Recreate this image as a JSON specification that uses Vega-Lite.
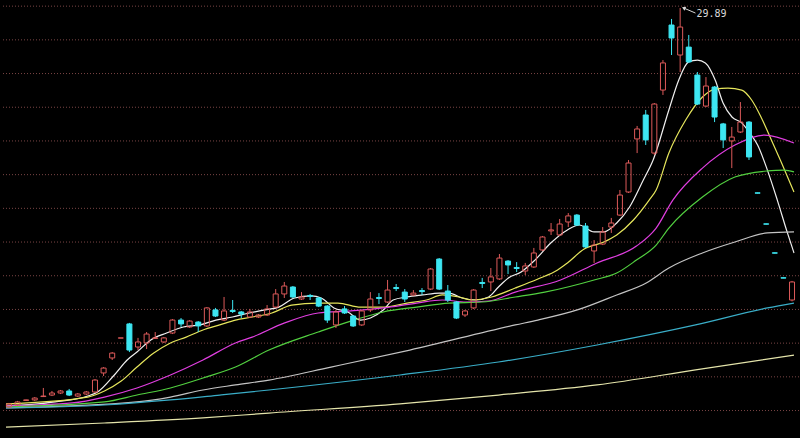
{
  "$schema": "https://vega.github.io/schema/vega-lite/v6.json",
  "width": 800,
  "height": 438,
  "autosize": {"type": "fit", "contains": "padding"},
  "padding": 0,
  "background": "#000000",
  "config": {"view": {"stroke": null}},
  "datasets": {
    "g": [{"p":6},{"p":8},{"p":10},{"p":12},{"p":14},{"p":16},{"p":18},{"p":20},{"p":22},{"p":24},{"p":26},{"p":28},{"p":30}],
    "k": [
      {"i":0,"o":6.21,"c":6.39,"h":6.45,"l":6.15},
      {"i":1,"o":6.33,"c":6.51,"h":6.57,"l":6.27},
      {"i":2,"o":6.60,"c":6.63,"h":6.65,"l":6.57},
      {"i":3,"o":6.63,"c":6.74,"h":6.80,"l":6.57},
      {"i":4,"o":6.83,"c":6.86,"h":7.34,"l":6.80},
      {"i":5,"o":6.92,"c":7.04,"h":7.16,"l":6.86},
      {"i":6,"o":7.04,"c":7.16,"h":7.22,"l":6.98},
      {"i":7,"o":7.16,"c":6.92,"h":7.28,"l":6.86},
      {"i":8,"o":6.86,"c":6.98,"h":7.04,"l":6.80},
      {"i":9,"o":6.98,"c":7.10,"h":7.16,"l":6.92},
      {"i":10,"o":7.10,"c":7.81,"h":7.87,"l":7.04},
      {"i":11,"o":8.23,"c":8.52,"h":8.58,"l":8.05},
      {"i":12,"o":9.12,"c":9.41,"h":9.47,"l":9.00},
      {"i":13,"o":10.30,"c":10.31,"h":10.31,"l":10.30},
      {"i":14,"o":11.14,"c":9.59,"h":11.20,"l":9.47},
      {"i":15,"o":9.77,"c":10.07,"h":10.31,"l":9.59},
      {"i":16,"o":10.01,"c":10.54,"h":10.66,"l":9.65},
      {"i":17,"o":10.28,"c":10.31,"h":10.66,"l":10.25},
      {"i":18,"o":10.07,"c":10.31,"h":10.36,"l":10.01},
      {"i":19,"o":10.60,"c":11.37,"h":11.43,"l":10.54},
      {"i":20,"o":11.37,"c":11.14,"h":11.49,"l":10.96},
      {"i":21,"o":10.96,"c":11.31,"h":11.37,"l":10.90},
      {"i":22,"o":11.25,"c":11.02,"h":11.31,"l":10.66},
      {"i":23,"o":11.02,"c":12.09,"h":12.14,"l":10.96},
      {"i":24,"o":11.97,"c":11.61,"h":12.09,"l":11.55},
      {"i":25,"o":11.37,"c":11.91,"h":12.74,"l":11.31},
      {"i":26,"o":11.94,"c":11.88,"h":12.56,"l":11.79},
      {"i":27,"o":11.85,"c":11.73,"h":11.91,"l":11.49},
      {"i":28,"o":11.55,"c":11.85,"h":12.03,"l":11.49},
      {"i":29,"o":11.55,"c":11.67,"h":11.73,"l":11.49},
      {"i":30,"o":11.67,"c":12.03,"h":12.26,"l":11.61},
      {"i":31,"o":12.14,"c":12.92,"h":13.21,"l":12.09},
      {"i":32,"o":12.92,"c":13.39,"h":13.63,"l":12.68},
      {"i":33,"o":13.33,"c":12.74,"h":13.39,"l":12.68},
      {"i":34,"o":12.62,"c":12.74,"h":13.03,"l":12.56},
      {"i":35,"o":12.83,"c":12.77,"h":12.92,"l":12.56},
      {"i":36,"o":12.68,"c":12.20,"h":12.74,"l":12.14},
      {"i":37,"o":12.20,"c":11.37,"h":12.26,"l":11.20},
      {"i":38,"o":11.08,"c":11.85,"h":11.97,"l":10.90},
      {"i":39,"o":12.03,"c":11.79,"h":12.20,"l":11.73},
      {"i":40,"o":11.61,"c":11.02,"h":11.67,"l":10.96},
      {"i":41,"o":11.08,"c":11.91,"h":11.97,"l":11.02},
      {"i":42,"o":11.97,"c":12.62,"h":13.03,"l":11.85},
      {"i":43,"o":12.71,"c":12.65,"h":12.97,"l":12.32},
      {"i":44,"o":12.44,"c":13.15,"h":13.75,"l":12.38},
      {"i":45,"o":13.30,"c":13.24,"h":13.51,"l":13.09},
      {"i":46,"o":13.03,"c":12.62,"h":13.21,"l":12.44},
      {"i":47,"o":12.86,"c":12.97,"h":13.15,"l":12.80},
      {"i":48,"o":13.12,"c":13.06,"h":13.27,"l":12.86},
      {"i":49,"o":13.21,"c":14.40,"h":14.46,"l":13.15},
      {"i":50,"o":14.99,"c":13.21,"h":15.05,"l":13.15},
      {"i":51,"o":13.09,"c":12.56,"h":13.45,"l":12.44},
      {"i":52,"o":12.44,"c":11.49,"h":12.50,"l":11.43},
      {"i":53,"o":11.67,"c":11.91,"h":11.97,"l":11.55},
      {"i":54,"o":12.09,"c":13.15,"h":13.21,"l":12.03},
      {"i":55,"o":13.60,"c":13.54,"h":13.87,"l":13.27},
      {"i":56,"o":13.63,"c":13.93,"h":14.46,"l":13.09},
      {"i":57,"o":13.81,"c":15.05,"h":15.29,"l":13.75},
      {"i":58,"o":14.87,"c":14.64,"h":14.93,"l":14.10},
      {"i":59,"o":14.49,"c":14.43,"h":14.81,"l":14.22},
      {"i":60,"o":14.28,"c":14.58,"h":14.76,"l":14.04},
      {"i":61,"o":14.52,"c":15.35,"h":15.65,"l":14.46},
      {"i":62,"o":15.53,"c":16.30,"h":16.36,"l":15.47},
      {"i":63,"o":16.66,"c":16.72,"h":17.13,"l":16.42},
      {"i":64,"o":16.42,"c":17.07,"h":17.37,"l":16.36},
      {"i":65,"o":17.19,"c":17.55,"h":17.72,"l":16.89},
      {"i":66,"o":17.60,"c":17.01,"h":17.66,"l":16.95},
      {"i":67,"o":16.95,"c":15.71,"h":17.13,"l":15.65},
      {"i":68,"o":15.47,"c":15.82,"h":16.12,"l":14.76},
      {"i":69,"o":15.88,"c":16.60,"h":16.89,"l":15.82},
      {"i":70,"o":16.89,"c":17.13,"h":17.43,"l":16.54},
      {"i":71,"o":17.60,"c":18.79,"h":19.09,"l":17.55},
      {"i":72,"o":18.97,"c":20.69,"h":20.87,"l":18.91},
      {"i":73,"o":22.12,"c":22.71,"h":22.89,"l":21.28},
      {"i":74,"o":23.54,"c":22.06,"h":23.84,"l":21.76},
      {"i":75,"o":21.28,"c":24.19,"h":24.25,"l":21.17},
      {"i":76,"o":25.02,"c":26.63,"h":26.80,"l":24.73},
      {"i":77,"o":28.88,"c":28.11,"h":29.24,"l":27.10},
      {"i":78,"o":27.10,"c":28.76,"h":29.89,"l":26.09},
      {"i":79,"o":27.57,"c":26.69,"h":28.29,"l":26.63},
      {"i":80,"o":25.91,"c":24.19,"h":26.09,"l":24.13},
      {"i":81,"o":24.07,"c":25.26,"h":25.79,"l":24.01},
      {"i":82,"o":25.20,"c":23.42,"h":25.26,"l":23.12},
      {"i":83,"o":23.01,"c":22.06,"h":23.07,"l":21.58},
      {"i":84,"o":22.00,"c":22.23,"h":22.83,"l":20.39},
      {"i":85,"o":22.53,"c":23.12,"h":24.31,"l":22.47},
      {"i":86,"o":23.12,"c":21.05,"h":23.18,"l":20.87},
      {"i":87,"o":18.92,"c":18.90,"h":18.92,"l":18.90},
      {"i":88,"o":17.08,"c":17.06,"h":17.08,"l":17.06},
      {"i":89,"o":15.36,"c":15.34,"h":15.36,"l":15.34},
      {"i":90,"o":13.88,"c":13.86,"h":13.88,"l":13.86},
      {"i":91,"o":12.56,"c":13.63,"h":13.69,"l":12.48}
    ],
    "ma": [
      {"s":"MA5","i":-0.34,"p":6.27},{"s":"MA5","i":5.38,"p":6.51},{"s":"MA5","i":9.16,"p":6.86},{"s":"MA5","i":10.30,"p":7.10},
      {"s":"MA5","i":12.25,"p":8.11},{"s":"MA5","i":13.74,"p":9.00},{"s":"MA5","i":14.88,"p":9.47},{"s":"MA5","i":16.48,"p":10.19},
      {"s":"MA5","i":18.32,"p":10.60},{"s":"MA5","i":20.26,"p":10.96},{"s":"MA5","i":22.21,"p":11.08},{"s":"MA5","i":24.04,"p":11.37},
      {"s":"MA5","i":25.98,"p":11.55},{"s":"MA5","i":27.93,"p":11.79},{"s":"MA5","i":29.76,"p":11.97},{"s":"MA5","i":31.36,"p":12.14},
      {"s":"MA5","i":33.20,"p":12.68},{"s":"MA5","i":35.14,"p":12.80},{"s":"MA5","i":36.29,"p":12.68},{"s":"MA5","i":37.77,"p":12.09},
      {"s":"MA5","i":39.38,"p":11.85},{"s":"MA5","i":40.87,"p":11.37},{"s":"MA5","i":42.01,"p":11.49},{"s":"MA5","i":43.50,"p":11.97},
      {"s":"MA5","i":44.64,"p":12.56},{"s":"MA5","i":46.25,"p":12.74},{"s":"MA5","i":48.08,"p":12.86},{"s":"MA5","i":50.02,"p":12.97},
      {"s":"MA5","i":51.17,"p":12.97},{"s":"MA5","i":52.66,"p":12.68},{"s":"MA5","i":54.26,"p":12.56},{"s":"MA5","i":55.75,"p":12.74},
      {"s":"MA5","i":56.89,"p":13.33},{"s":"MA5","i":58.04,"p":13.87},{"s":"MA5","i":59.52,"p":14.22},{"s":"MA5","i":61.13,"p":14.93},
      {"s":"MA5","i":62.96,"p":15.94},{"s":"MA5","i":64.90,"p":16.72},{"s":"MA5","i":66.28,"p":17.01},{"s":"MA5","i":68.00,"p":16.60},
      {"s":"MA5","i":69.14,"p":16.60},{"s":"MA5","i":70.63,"p":17.13},{"s":"MA5","i":72.12,"p":18.08},{"s":"MA5","i":73.72,"p":19.68},
      {"s":"MA5","i":74.86,"p":20.87},{"s":"MA5","i":76.69,"p":23.84},{"s":"MA5","i":77.84,"p":25.62},{"s":"MA5","i":78.98,"p":26.69},
      {"s":"MA5","i":80.01,"p":26.80},{"s":"MA5","i":80.93,"p":26.63},{"s":"MA5","i":82.07,"p":25.62},{"s":"MA5","i":82.99,"p":24.25},
      {"s":"MA5","i":84.02,"p":23.42},{"s":"MA5","i":85.16,"p":23.07},{"s":"MA5","i":86.08,"p":22.47},{"s":"MA5","i":87.00,"p":21.76},
      {"s":"MA5","i":88.14,"p":20.27},{"s":"MA5","i":89.29,"p":18.49},{"s":"MA5","i":90.43,"p":16.60},{"s":"MA5","i":91.23,"p":15.35},

      {"s":"MA10","i":-0.34,"p":6.39},{"s":"MA10","i":9.16,"p":6.80},{"s":"MA10","i":11.10,"p":7.16},{"s":"MA10","i":13.05,"p":7.75},
      {"s":"MA10","i":14.88,"p":8.58},{"s":"MA10","i":16.83,"p":9.41},{"s":"MA10","i":18.77,"p":10.01},{"s":"MA10","i":20.60,"p":10.36},
      {"s":"MA10","i":22.55,"p":10.78},{"s":"MA10","i":24.50,"p":11.08},{"s":"MA10","i":26.33,"p":11.37},{"s":"MA10","i":28.27,"p":11.55},
      {"s":"MA10","i":30.56,"p":11.79},{"s":"MA10","i":32.85,"p":12.26},{"s":"MA10","i":35.94,"p":12.38},{"s":"MA10","i":38.23,"p":12.38},
      {"s":"MA10","i":40.87,"p":12.14},{"s":"MA10","i":43.50,"p":12.14},{"s":"MA10","i":46.25,"p":12.38},{"s":"MA10","i":48.53,"p":12.56},
      {"s":"MA10","i":50.37,"p":12.86},{"s":"MA10","i":52.31,"p":12.74},{"s":"MA10","i":53.80,"p":12.56},{"s":"MA10","i":56.09,"p":12.74},
      {"s":"MA10","i":58.84,"p":13.27},{"s":"MA10","i":61.47,"p":13.81},{"s":"MA10","i":63.76,"p":14.34},{"s":"MA10","i":64.90,"p":14.76},
      {"s":"MA10","i":66.85,"p":15.59},{"s":"MA10","i":69.14,"p":16.00},{"s":"MA10","i":70.63,"p":16.42},{"s":"MA10","i":72.57,"p":17.31},
      {"s":"MA10","i":74.40,"p":18.49},{"s":"MA10","i":75.21,"p":19.09},{"s":"MA10","i":76.69,"p":21.28},{"s":"MA10","i":78.64,"p":23.24},
      {"s":"MA10","i":80.59,"p":24.61},{"s":"MA10","i":82.07,"p":25.08},{"s":"MA10","i":83.56,"p":25.14},{"s":"MA10","i":85.16,"p":25.02},
      {"s":"MA10","i":86.31,"p":24.43},{"s":"MA10","i":87.45,"p":23.36},{"s":"MA10","i":88.60,"p":22.06},{"s":"MA10","i":89.74,"p":20.75},
      {"s":"MA10","i":91.23,"p":18.97},

      {"s":"MA20","i":-0.34,"p":6.27},{"s":"MA20","i":7.33,"p":6.45},{"s":"MA20","i":11.10,"p":6.80},{"s":"MA20","i":14.88,"p":7.34},
      {"s":"MA20","i":18.77,"p":8.11},{"s":"MA20","i":22.55,"p":9.00},{"s":"MA20","i":26.33,"p":10.01},{"s":"MA20","i":28.27,"p":10.36},
      {"s":"MA20","i":32.05,"p":11.20},{"s":"MA20","i":35.94,"p":11.79},{"s":"MA20","i":39.72,"p":11.91},{"s":"MA20","i":43.50,"p":12.09},
      {"s":"MA20","i":47.39,"p":12.38},{"s":"MA20","i":50.37,"p":12.56},{"s":"MA20","i":53.11,"p":12.44},{"s":"MA20","i":55.75,"p":12.50},
      {"s":"MA20","i":58.84,"p":13.03},{"s":"MA20","i":64.10,"p":13.75},{"s":"MA20","i":68.34,"p":14.76},{"s":"MA20","i":72.92,"p":15.76},
      {"s":"MA20","i":75.21,"p":16.83},{"s":"MA20","i":77.15,"p":18.49},{"s":"MA20","i":80.59,"p":20.39},{"s":"MA20","i":84.36,"p":21.76},
      {"s":"MA20","i":87.80,"p":22.35},{"s":"MA20","i":91.23,"p":21.88},

      {"s":"MA30","i":-0.34,"p":6.21},{"s":"MA30","i":11.10,"p":6.51},{"s":"MA30","i":14.88,"p":6.92},{"s":"MA30","i":18.77,"p":7.34},
      {"s":"MA30","i":22.55,"p":7.93},{"s":"MA30","i":26.33,"p":8.58},{"s":"MA30","i":30.22,"p":9.59},{"s":"MA30","i":35.94,"p":10.66},
      {"s":"MA30","i":39.72,"p":11.31},{"s":"MA30","i":43.50,"p":11.85},{"s":"MA30","i":47.39,"p":12.14},{"s":"MA30","i":51.17,"p":12.38},
      {"s":"MA30","i":54.95,"p":12.44},{"s":"MA30","i":58.84,"p":12.74},{"s":"MA30","i":62.27,"p":13.03},{"s":"MA30","i":68.00,"p":13.75},
      {"s":"MA30","i":70.63,"p":14.16},{"s":"MA30","i":72.92,"p":14.93},{"s":"MA30","i":75.21,"p":15.82},{"s":"MA30","i":76.69,"p":16.83},
      {"s":"MA30","i":80.59,"p":18.67},{"s":"MA30","i":84.36,"p":19.86},{"s":"MA30","i":88.14,"p":20.22},{"s":"MA30","i":90.09,"p":20.27},
      {"s":"MA30","i":91.23,"p":20.16},

      {"s":"MA60","i":-0.34,"p":6.15},{"s":"MA60","i":14.88,"p":6.51},{"s":"MA60","i":18.77,"p":6.80},{"s":"MA60","i":22.55,"p":7.22},
      {"s":"MA60","i":26.33,"p":7.52},{"s":"MA60","i":30.22,"p":7.81},{"s":"MA60","i":37.43,"p":8.58},{"s":"MA60","i":46.59,"p":9.59},
      {"s":"MA60","i":58.84,"p":11.08},{"s":"MA60","i":61.47,"p":11.37},{"s":"MA60","i":66.05,"p":11.97},{"s":"MA60","i":70.63,"p":12.86},
      {"s":"MA60","i":74.06,"p":13.57},{"s":"MA60","i":76.69,"p":14.46},{"s":"MA60","i":80.59,"p":15.35},{"s":"MA60","i":84.36,"p":16.00},
      {"s":"MA60","i":88.14,"p":16.54},{"s":"MA60","i":91.23,"p":16.60},

      {"s":"MA120","i":-0.34,"p":6.15},{"s":"MA120","i":11.10,"p":6.33},{"s":"MA120","i":18.77,"p":6.63},{"s":"MA120","i":24.50,"p":6.92},
      {"s":"MA120","i":30.22,"p":7.22},{"s":"MA120","i":45.44,"p":8.11},{"s":"MA120","i":56.89,"p":8.88},{"s":"MA120","i":68.34,"p":9.89},
      {"s":"MA120","i":79.79,"p":11.08},{"s":"MA120","i":88.14,"p":12.09},{"s":"MA120","i":91.23,"p":12.38},

      {"s":"MA250","i":-0.34,"p":5.02},{"s":"MA250","i":11.10,"p":5.26},{"s":"MA250","i":22.55,"p":5.56},{"s":"MA250","i":30.22,"p":5.85},
      {"s":"MA250","i":45.44,"p":6.39},{"s":"MA250","i":56.89,"p":6.92},{"s":"MA250","i":68.34,"p":7.52},{"s":"MA250","i":79.79,"p":8.41},
      {"s":"MA250","i":91.23,"p":9.29}
    ],
    "note": [
      {"i":78.41,"p":29.89,"i2":79.78,"p2":29.59,"t":"29.89"}
    ]
  },
  "layer": [
    {
      "data": {"name": "g"},
      "mark": {"type": "rule", "color": "#7a4545", "strokeDash": [1, 2], "strokeWidth": 1},
      "encoding": {
        "y": {"field": "p", "type": "quantitative", "scale": {"domain": [4.37, 30.365], "nice": false, "zero": false}, "axis": null}
      }
    },
    {
      "data": {"name": "ma"},
      "mark": {"type": "line", "strokeWidth": 1.2, "interpolate": "monotone"},
      "encoding": {
        "x": {"field": "i", "type": "quantitative", "scale": {"domain": [-0.34, 91.23], "nice": false, "zero": false}, "axis": null},
        "y": {"field": "p", "type": "quantitative", "scale": {"domain": [4.37, 30.365], "nice": false, "zero": false}, "axis": null},
        "color": {"field": "s", "type": "nominal", "legend": null,
                  "scale": {"domain": ["MA5","MA10","MA20","MA30","MA60","MA120","MA250"],
                            "range": ["#f0f0f0","#e6e65c","#e03ee0","#52d040","#c4c4c4","#3aaec8","#e4e4aa"]}},
        "detail": {"field": "s"}
      }
    },
    {
      "data": {"name": "k"},
      "mark": {"type": "rule", "strokeWidth": 1},
      "encoding": {
        "x": {"field": "i", "type": "quantitative", "scale": {"domain": [-0.34, 91.23], "nice": false, "zero": false}, "axis": null},
        "y": {"field": "h", "type": "quantitative", "scale": {"domain": [4.37, 30.365], "nice": false, "zero": false}, "axis": null},
        "y2": {"field": "c"},
        "color": {"condition": {"test": "datum.c >= datum.o", "value": "#dd5a5a"}, "value": "#3de6f2"}
      }
    },
    {
      "data": {"name": "k"},
      "mark": {"type": "rule", "strokeWidth": 1},
      "encoding": {
        "x": {"field": "i", "type": "quantitative", "scale": {"domain": [-0.34, 91.23], "nice": false, "zero": false}, "axis": null},
        "y": {"field": "o", "type": "quantitative", "scale": {"domain": [4.37, 30.365], "nice": false, "zero": false}, "axis": null},
        "y2": {"field": "l"},
        "color": {"condition": {"test": "datum.c >= datum.o", "value": "#dd5a5a"}, "value": "#3de6f2"}
      }
    },
    {
      "data": {"name": "k"},
      "transform": [{"filter": "datum.c < datum.o"}],
      "mark": {"type": "bar", "width": 5, "fill": "#3de6f2", "stroke": "#3de6f2", "strokeWidth": 1},
      "encoding": {
        "x": {"field": "i", "type": "quantitative", "scale": {"domain": [-0.34, 91.23], "nice": false, "zero": false}, "axis": null},
        "y": {"field": "o", "type": "quantitative", "scale": {"domain": [4.37, 30.365], "nice": false, "zero": false}, "axis": null},
        "y2": {"field": "c"}
      }
    },
    {
      "data": {"name": "k"},
      "transform": [{"filter": "datum.c >= datum.o"}],
      "mark": {"type": "bar", "width": 5, "fill": "#000000", "fillOpacity": 0, "stroke": "#dd5a5a", "strokeWidth": 1},
      "encoding": {
        "x": {"field": "i", "type": "quantitative", "scale": {"domain": [-0.34, 91.23], "nice": false, "zero": false}, "axis": null},
        "y": {"field": "o", "type": "quantitative", "scale": {"domain": [4.37, 30.365], "nice": false, "zero": false}, "axis": null},
        "y2": {"field": "c"}
      }
    },
    {
      "data": {"name": "note"},
      "mark": {"type": "rule", "color": "#d8d8d8", "strokeWidth": 1},
      "encoding": {
        "x": {"field": "i", "type": "quantitative", "scale": {"domain": [-0.34, 91.23], "nice": false, "zero": false}, "axis": null},
        "x2": {"field": "i2"},
        "y": {"field": "p", "type": "quantitative", "scale": {"domain": [4.37, 30.365], "nice": false, "zero": false}, "axis": null},
        "y2": {"field": "p2"}
      }
    },
    {
      "data": {"name": "note"},
      "mark": {"type": "point", "shape": "triangle-left", "angle": 22, "size": 18, "filled": true, "color": "#d8d8d8", "opacity": 1},
      "encoding": {
        "x": {"field": "i", "type": "quantitative", "scale": {"domain": [-0.34, 91.23], "nice": false, "zero": false}, "axis": null},
        "y": {"field": "p", "type": "quantitative", "scale": {"domain": [4.37, 30.365], "nice": false, "zero": false}, "axis": null}
      }
    },
    {
      "data": {"name": "note"},
      "mark": {"type": "text", "align": "left", "baseline": "middle", "dx": 1, "dy": 1, "font": "DejaVu Sans Mono", "fontSize": 10, "color": "#d8d8d8"},
      "encoding": {
        "x": {"field": "i2", "type": "quantitative", "scale": {"domain": [-0.34, 91.23], "nice": false, "zero": false}, "axis": null},
        "y": {"field": "p2", "type": "quantitative", "scale": {"domain": [4.37, 30.365], "nice": false, "zero": false}, "axis": null},
        "text": {"field": "t"}
      }
    }
  ]
}
